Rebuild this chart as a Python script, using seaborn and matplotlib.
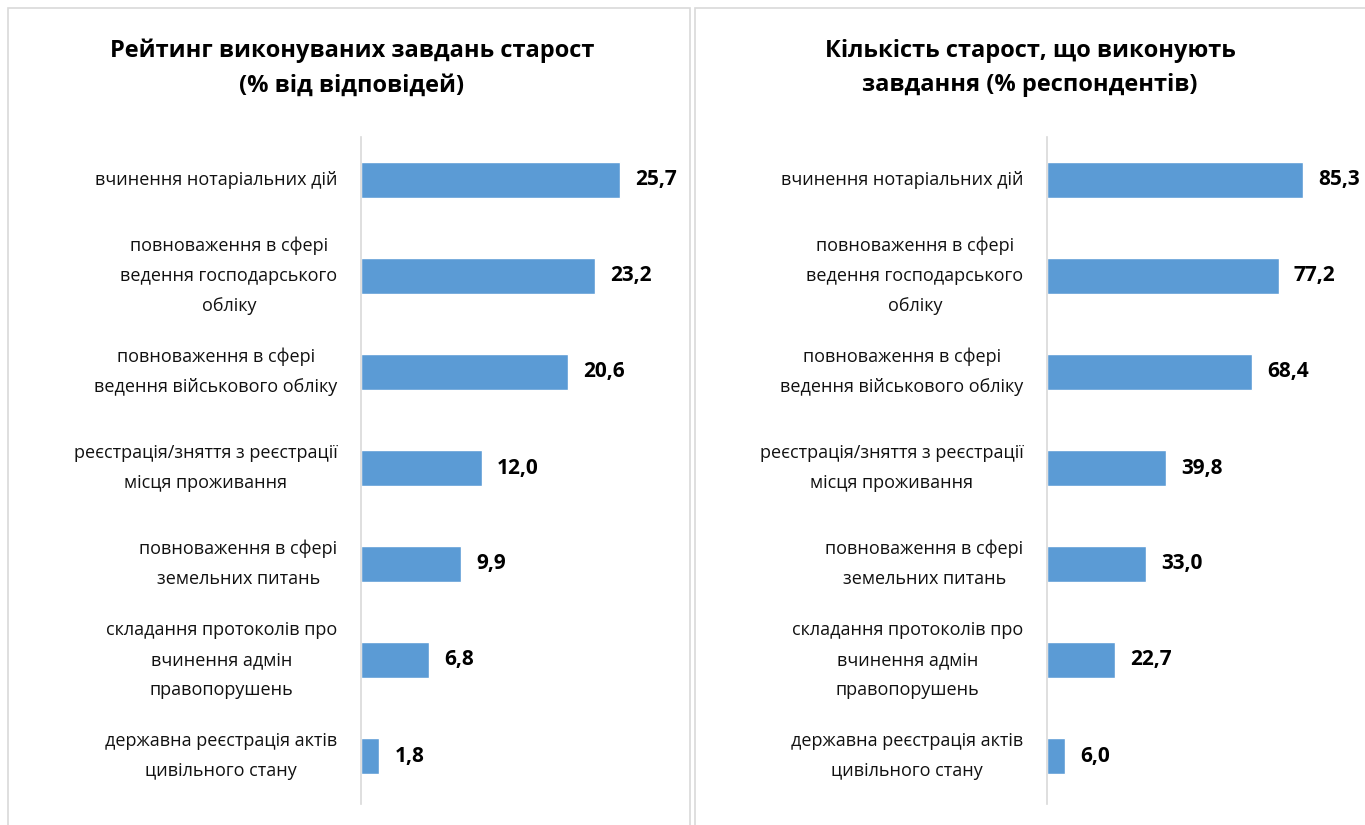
import matplotlib
matplotlib.use("Agg")
import matplotlib.pyplot as plt
import seaborn as sns
import pandas as pd
from matplotlib.patches import Rectangle

categories = [
    "вчинення нотаріальних дій",
    "повноваження в сфері\nведення господарського\nобліку",
    "повноваження в сфері\nведення військового обліку",
    "реєстрація/зняття з реєстрації\nмісця проживання",
    "повноваження в сфері\nземельних питань",
    "складання протоколів про\nвчинення адмін\nправопорушень",
    "державна реєстрація актів\nцивільного стану",
]
left_values = [25.7, 23.2, 20.6, 12.0, 9.9, 6.8, 1.8]
right_values = [85.3, 77.2, 68.4, 39.8, 33.0, 22.7, 6.0]
left_title = "Рейтинг виконуваних завдань старост\n(% від відповідей)"
right_title = "Кількість старост, що виконують\nзавдання (% респондентів)"

sns.set_theme(style="white")
plt.rcParams['font.family'] = ['Open Sans', 'DejaVu Sans']

W, H = 1365, 825
fig = plt.figure(figsize=(W / 100, H / 100), dpi=100)
fig.patch.set_facecolor("white")

# panel borders
for x0, x1 in [(8, 690), (695, 1372)]:
    fig.add_artist(Rectangle((x0 / W, -0.05), (x1 - x0) / W, (H - 8) / H + 0.05,
                             transform=fig.transFigure, fill=False,
                             edgecolor="#D9D9D9", linewidth=1.2))

bar_color = "#5B9BD5"
top_px, bot_px = 132, 804

def panel(ax_left, ax_right, values, xmax, title, title_x):
    ax = fig.add_axes([ax_left / W, (H - bot_px) / H, (ax_right - ax_left) / W,
                       (bot_px - top_px) / H])
    df = pd.DataFrame({"cat": categories, "val": values})
    sns.barplot(data=df, x="val", y="cat", orient="h", color=bar_color,
                width=0.37, ax=ax, saturation=1)
    ax.set_xlim(0, xmax)
    ax.set_ylim(6.5, -0.5)
    ax.set_xlabel("")
    ax.set_ylabel("")
    ax.set_xticks([])
    for s in ["top", "right", "bottom"]:
        ax.spines[s].set_visible(False)
    ax.spines["left"].set_color("#D9D9D9")
    ax.spines["left"].set_linewidth(1.2)
    ax.spines["left"].set_bounds(-0.45, 6.5)
    ax.tick_params(axis="y", length=0, pad=17)
    for lbl in ax.get_yticklabels():
        lbl.set_fontsize(13)
        lbl.set_multialignment("center")
        lbl.set_linespacing(1.85)
        lbl.set_verticalalignment("center")
        lbl.set_color("#111111")
    labels = [f"{v:.1f}".replace(".", ",") for v in values]
    ax.bar_label(ax.containers[0], labels=labels, padding=11,
                 fontsize=15, fontweight="bold", color="black")
    ax.patch.set_alpha(0)
    fig.text(title_x / W, 1 - 68 / H, title, ha="center", va="center",
             fontsize=17, fontweight="bold", linespacing=1.6, color="black")
    return ax

panel(361, 663, left_values, 30, left_title, 352)
panel(1047, 1347, right_values, 100, right_title, 1030)

fig.savefig("out.png", dpi=100)
